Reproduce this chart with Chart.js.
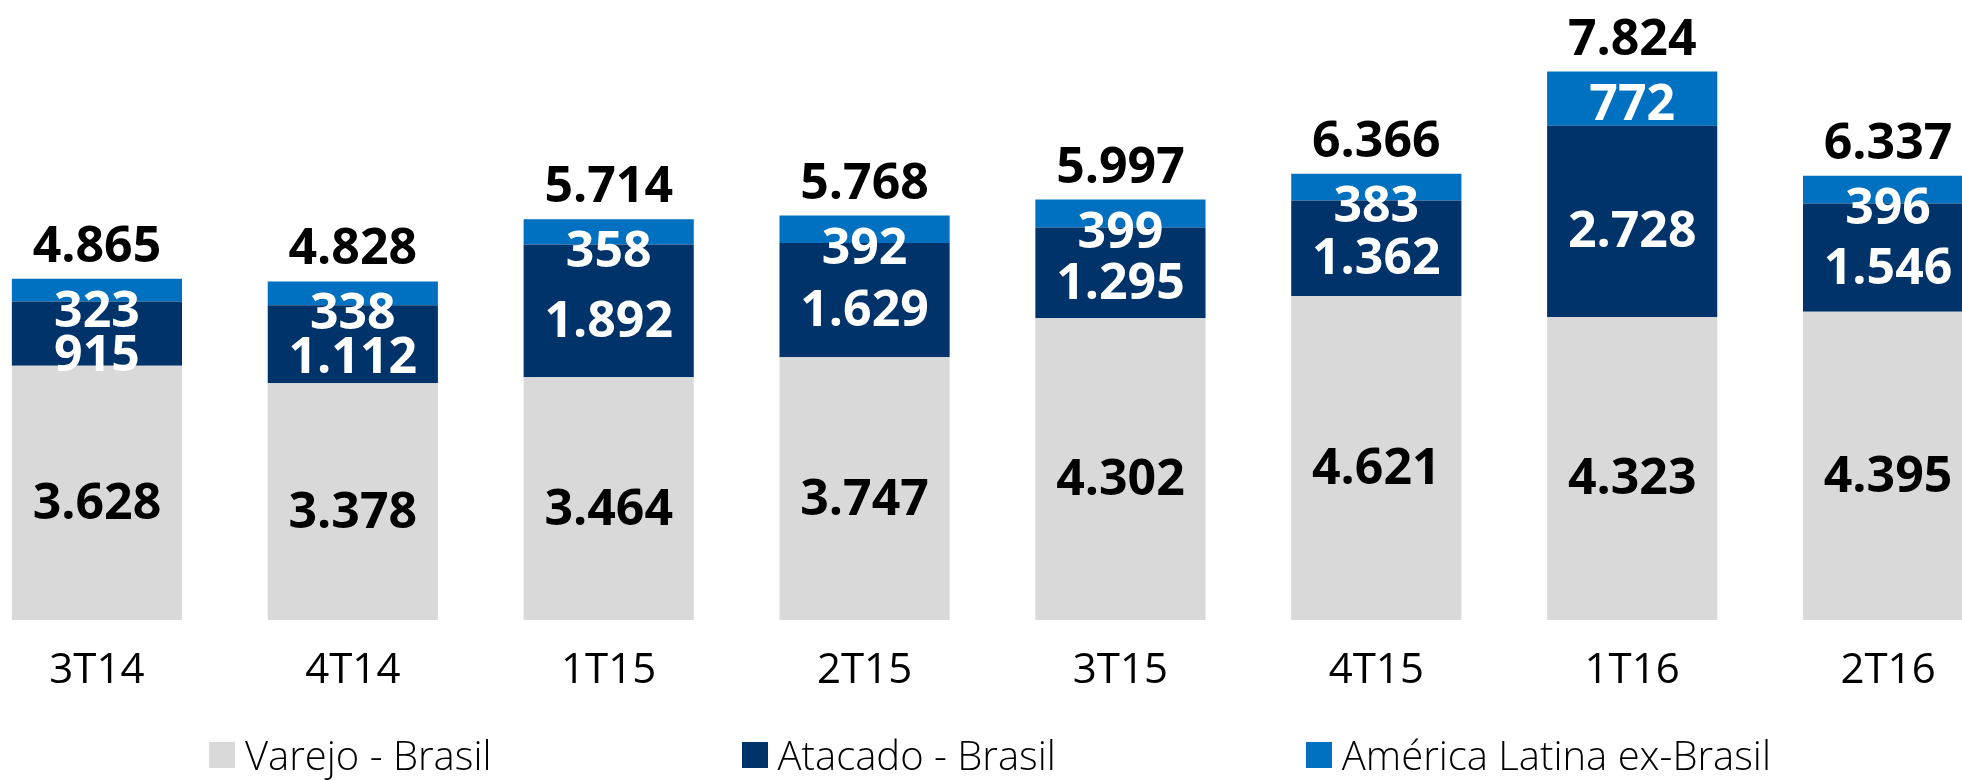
<!DOCTYPE html>
<html lang="pt-BR">
<head>
<meta charset="utf-8">
<title>Receita por segmento</title>
<script src="https://cdn.jsdelivr.net/npm/chart.js@4.4.1/dist/chart.umd.min.js"></script>
<style>
    html, body { margin: 0; padding: 0; background: #fff; width: 1962px; height: 780px; overflow: hidden; }
    .grafico { position: absolute; left: -31px; top: 0; width: 2047px; height: 780px; }
    #legenda {
        position: absolute; left: 209px; top: 735px; margin: 0; padding: 0; list-style: none;
        display: flex; gap: 250px;
        font: 300 40px 'Open Sans', sans-serif; line-height: 40px; color: #000;
    }
    #legenda li { display: flex; align-items: center; white-space: nowrap; }
    #legenda .caixa { width: 26px; height: 26px; margin-right: 10px; }
</style>
</head>
<body>
<div class="grafico"><canvas id="receitaChart"></canvas></div>
<ul id="legenda"></ul>
<script>
// dados do gráfico (R$ milhões)
const trimestres = ['3T14', '4T14', '1T15', '2T15', '3T15', '4T15', '1T16', '2T16'];
const varejoBrasil = [3628, 3378, 3464, 3747, 4302, 4621, 4323, 4395];
const atacadoBrasil = [915, 1112, 1892, 1629, 1295, 1362, 2728, 1546];
const americaLatina = [323, 338, 358, 392, 399, 383, 772, 396];
const totais = [4865, 4828, 5714, 5768, 5997, 6366, 7824, 6337];

const fmt = new Intl.NumberFormat('pt-BR');

// rótulos de valor dentro das barras e total acima
const rotulosPlugin = {
    id: 'rotulos',
    afterDatasetsDraw(chart) {
        const ctx = chart.ctx;
        const mVarejo = chart.getDatasetMeta(0).data;
        const mAtacado = chart.getDatasetMeta(1).data;
        const mAmerica = chart.getDatasetMeta(2).data;
        ctx.save();
        ctx.font = 'bold 50px "Open Sans"';
        ctx.textAlign = 'center';
        ctx.textBaseline = 'alphabetic';
        const meioCap = 18;
        trimestres.forEach((_, i) => {
            const g = mVarejo[i], a = mAtacado[i], l = mAmerica[i];
            const x = g.x;
            const yVarejo = (g.y + g.base) / 2 + 8;
            const yAmerica = l.y + 30;
            const yAtacado = Math.max((a.y + a.base) / 2 + 8, yAmerica + 44);

            ctx.fillStyle = '#000';
            ctx.fillText(fmt.format(varejoBrasil[i]), x, yVarejo + meioCap);
            ctx.fillStyle = '#fff';
            ctx.fillText(fmt.format(atacadoBrasil[i]), x, yAtacado + meioCap);
            ctx.fillText(fmt.format(americaLatina[i]), x, yAmerica + meioCap);
            ctx.fillStyle = '#000';
            ctx.fillText(fmt.format(totais[i]), x, l.y - 35 + meioCap);
        });
        ctx.restore();
    }
};

function montarLegenda(chart) {
    const ul = document.getElementById('legenda');
    const itens = chart.options.plugins.legend.labels.generateLabels(chart);
    ul.innerHTML = itens.map((it) => `
        <li><span class="caixa" style="background:${it.fillStyle}"></span>${it.text}</li>
    `).join('');
}

function desenhar() {
    const ctx = document.getElementById('receitaChart').getContext('2d');
    const chart = new Chart(ctx, {
        type: 'bar',
        data: {
            labels: trimestres,
            datasets: [
                { label: 'Varejo - Brasil', data: varejoBrasil, backgroundColor: '#D9D9D9' },
                { label: 'Atacado - Brasil', data: atacadoBrasil, backgroundColor: '#00336A' },
                { label: 'América Latina ex-Brasil', data: americaLatina, backgroundColor: '#0070C0' }
            ]
        },
        options: {
            responsive: true,
            maintainAspectRatio: false,
            animation: false,
            layout: { padding: { top: 3, left: 0, right: 0, bottom: 0 } },
            datasets: { bar: { barPercentage: 1, categoryPercentage: 0.665, borderWidth: 0 } },
            plugins: { legend: { display: false }, tooltip: { enabled: false } },
            scales: {
                x: {
                    stacked: true,
                    grid: { display: false, drawTicks: false },
                    border: { display: false },
                    ticks: { color: '#000', padding: 26, font: { family: 'Open Sans', size: 42 } },
                    afterFit: (s) => { s.height = 160; }
                },
                y: { stacked: true, display: false, min: 0, max: 8800 }
            }
        },
        plugins: [rotulosPlugin]
    });
    montarLegenda(chart);
}

Promise.all([
    document.fonts.load('bold 50px "Open Sans"'),
    document.fonts.load('42px "Open Sans"'),
    document.fonts.load('300 40px "Open Sans"')
]).then(desenhar, desenhar);
</script>
</body>
</html>
